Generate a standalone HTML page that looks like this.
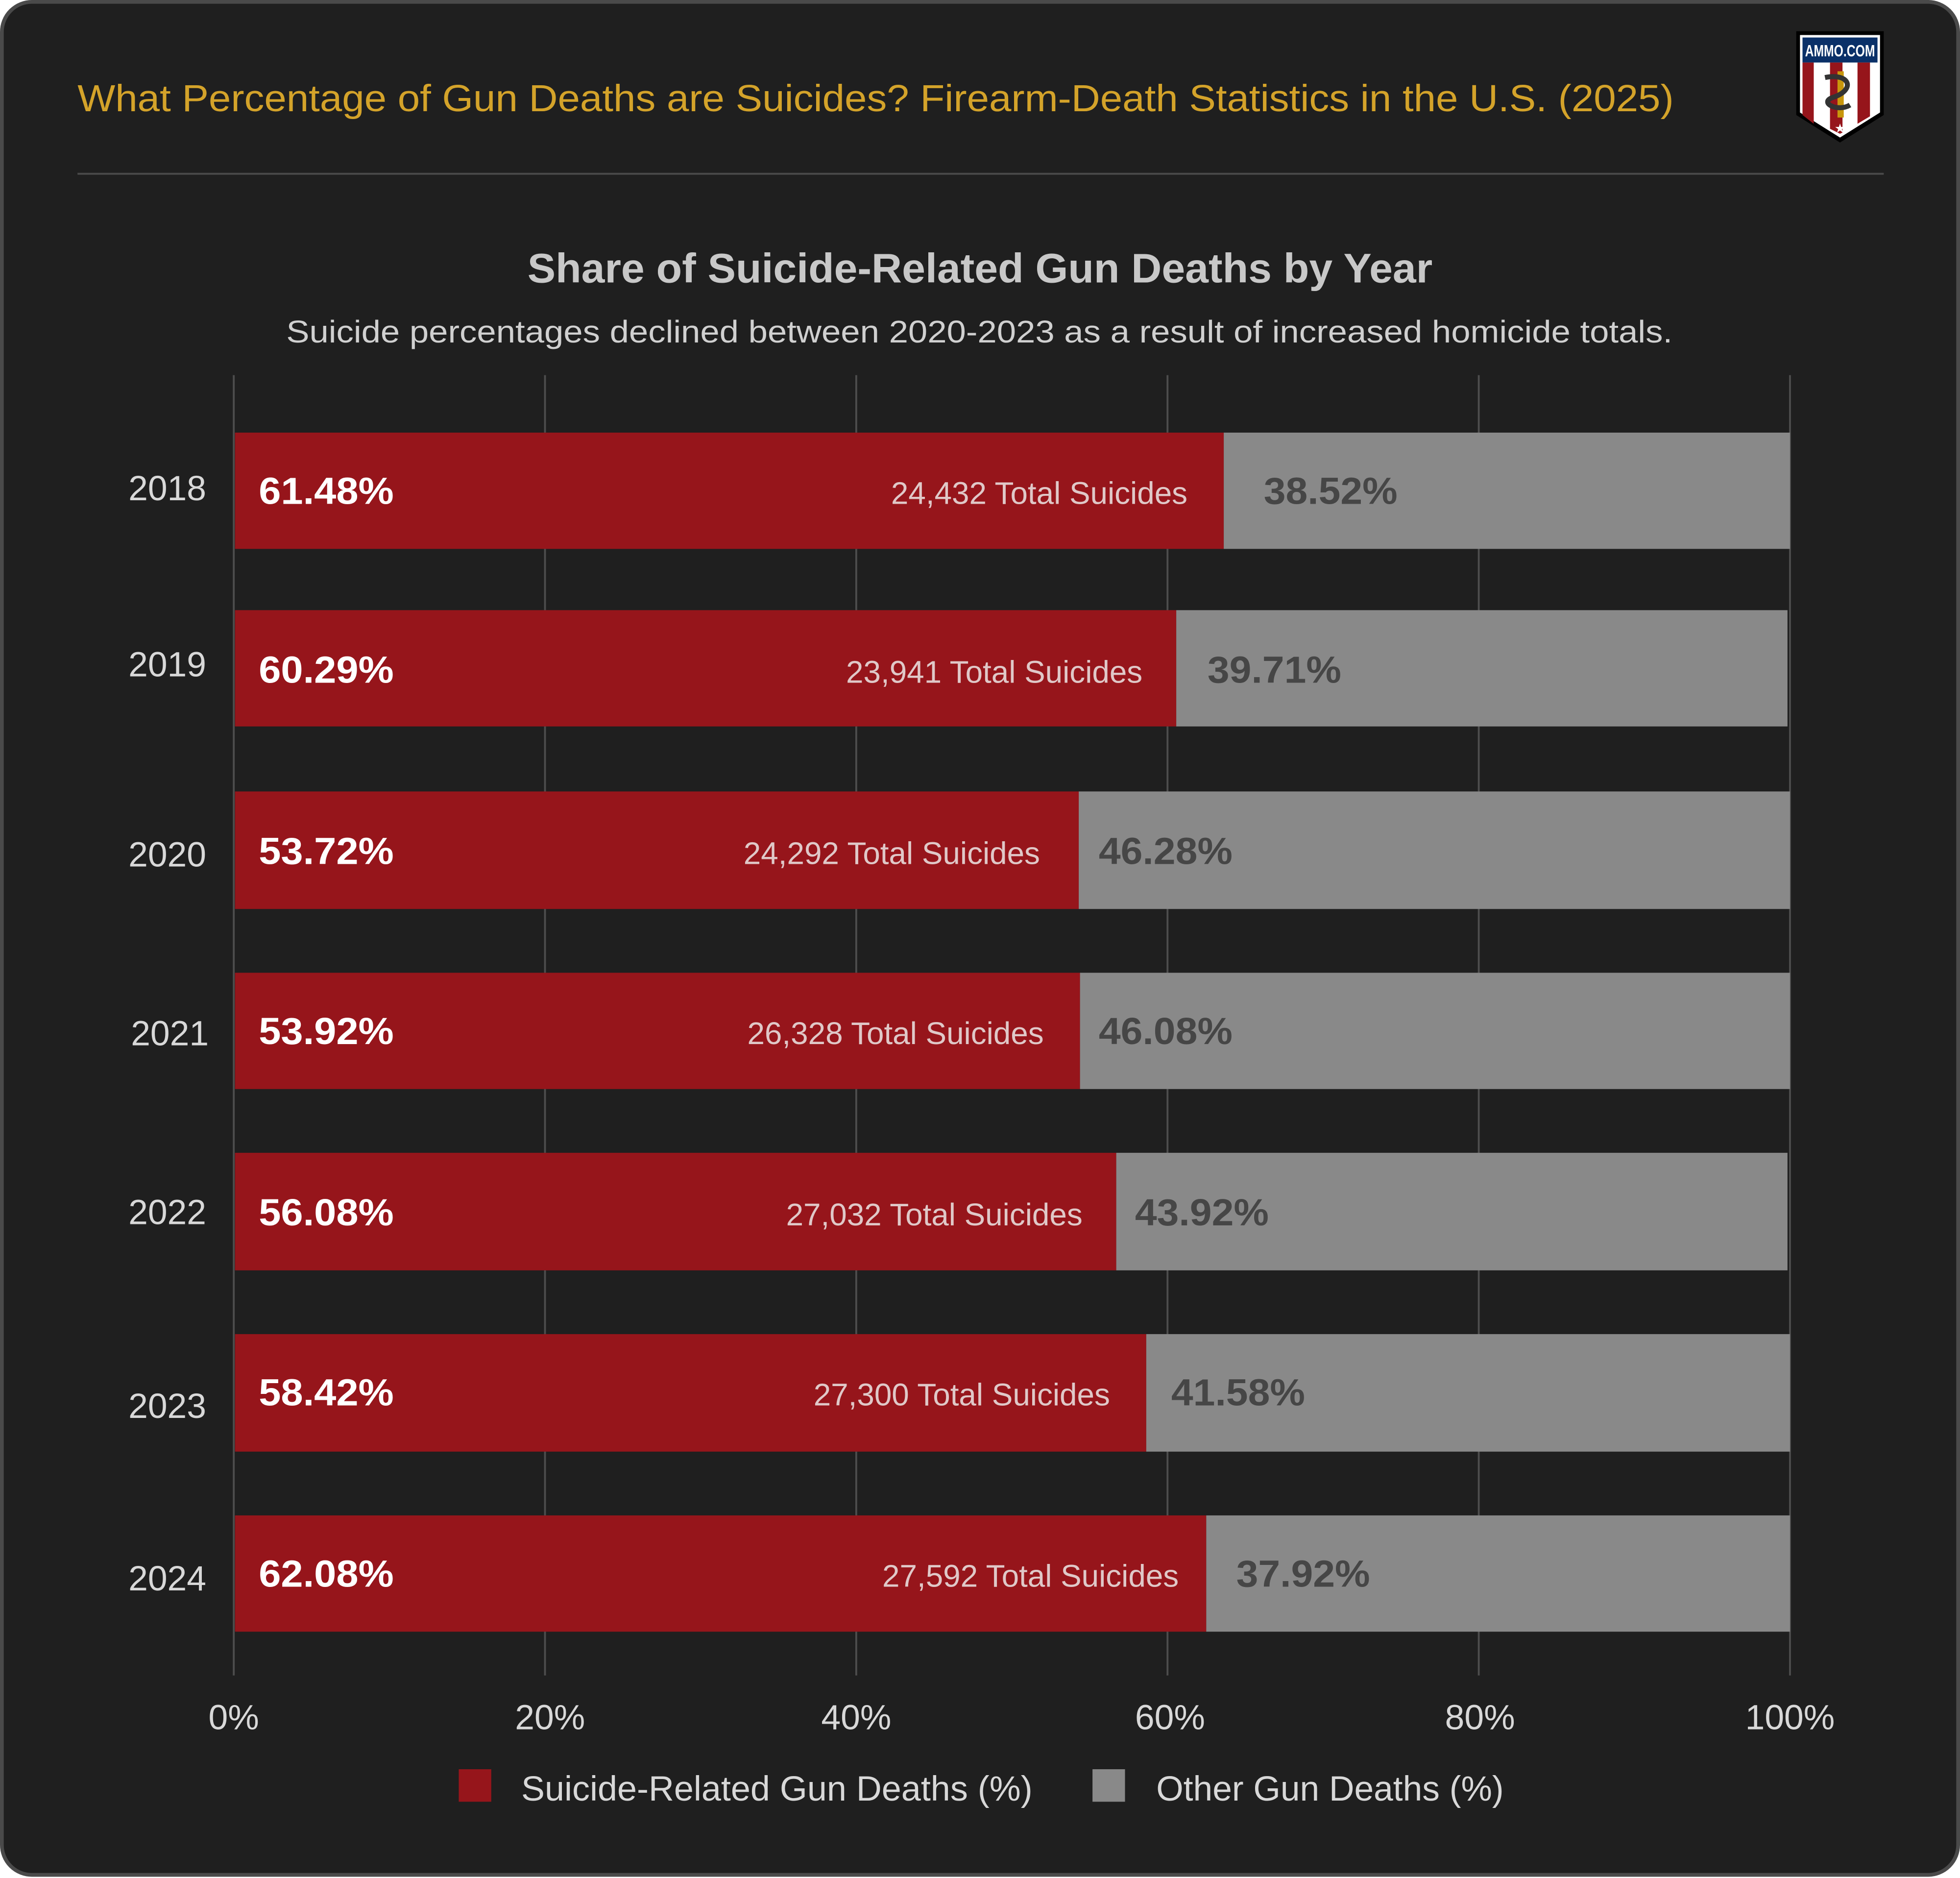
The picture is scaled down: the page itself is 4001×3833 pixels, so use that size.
<!DOCTYPE html>
<html><head><meta charset="utf-8"><style>
html,body{margin:0;padding:0;background:#fff;}
svg{display:block;}
text{font-family:"Liberation Sans",sans-serif;}
</style></head><body>
<svg width="4001" height="3833" viewBox="0 0 1568 1502" preserveAspectRatio="none" xmlns="http://www.w3.org/2000/svg">
<rect x="1.5" y="1.5" width="1565" height="1498" rx="24" fill="#1f1f1f" stroke="#4a4a4a" stroke-width="3"/>
<text x="62" y="89" font-size="30" fill="#d4a32a" textLength="1277" lengthAdjust="spacingAndGlyphs">What Percentage of Gun Deaths are Suicides? Firearm-Death Statistics in the U.S. (2025)</text>
<line x1="62" y1="139" x2="1507" y2="139" stroke="#4a4a4a" stroke-width="1.5"/>
<g>
<path d="M1437,25 H1507 V92 L1472,114 L1437,92 Z" fill="#000"/>
<path d="M1440,28 H1504 V90 L1472,110 L1440,90 Z" fill="#fff"/>
<rect x="1442" y="30" width="60" height="20" fill="#0a3068"/>
<text x="1444" y="45" font-size="13" font-weight="bold" fill="#fff" textLength="56" lengthAdjust="spacingAndGlyphs">AMMO.COM</text>
<path d="M1442,50 H1451 V99 L1442,92 Z" fill="#96151b"/>
<path d="M1464,50 H1474 V106 L1472,107 L1464,103 Z" fill="#96151b"/>
<path d="M1486,50 H1496 V93 L1486,99 Z" fill="#96151b"/>
<rect x="1470" y="57" width="5" height="37" fill="#c8960c"/>
<path d="M1460,62 C1480,58 1485,72 1466,78 C1455,82 1470,90 1480,84" stroke="#333" stroke-width="4" fill="none"/>
<text x="1472" y="106" font-size="10" fill="#fff" text-anchor="middle">★</text>
</g>
<text x="422" y="226" font-size="33" font-weight="bold" fill="#c8c8c8" textLength="724" lengthAdjust="spacingAndGlyphs">Share of Suicide-Related Gun Deaths by Year</text>
<text x="229" y="274" font-size="25" fill="#d0d0d0" textLength="1109" lengthAdjust="spacingAndGlyphs">Suicide percentages declined between 2020-2023 as a result of increased homicide totals.</text>
<g stroke="#4d4d4d" stroke-width="1.5">
<line x1="187" y1="300" x2="187" y2="1340"/><line x1="436" y1="300" x2="436" y2="1340"/><line x1="685" y1="300" x2="685" y2="1340"/><line x1="934" y1="300" x2="934" y2="1340"/><line x1="1183" y1="300" x2="1183" y2="1340"/><line x1="1432" y1="300" x2="1432" y2="1340"/>
</g>
<g font-size="28" fill="#d8d8d8" text-anchor="end">
<text x="165" y="400">2018</text><text x="165" y="541">2019</text><text x="165" y="693">2020</text><text x="167" y="836">2021</text><text x="165" y="979">2022</text><text x="165" y="1134">2023</text><text x="165" y="1272">2024</text>
</g>
<g>
<rect x="188" y="346" width="791" height="93" fill="#96151b"/><rect x="979" y="346" width="453" height="93" fill="#898989"/>
<rect x="188" y="488" width="753" height="93" fill="#96151b"/><rect x="941" y="488" width="489" height="93" fill="#898989"/>
<rect x="188" y="633" width="675" height="94" fill="#96151b"/><rect x="863" y="633" width="569" height="94" fill="#898989"/>
<rect x="188" y="778" width="676" height="93" fill="#96151b"/><rect x="864" y="778" width="568" height="93" fill="#898989"/>
<rect x="188" y="922" width="705" height="94" fill="#96151b"/><rect x="893" y="922" width="537" height="94" fill="#898989"/>
<rect x="188" y="1067" width="729" height="94" fill="#96151b"/><rect x="917" y="1067" width="515" height="94" fill="#898989"/>
<rect x="188" y="1212" width="777" height="93" fill="#96151b"/><rect x="965" y="1212" width="467" height="93" fill="#898989"/>
</g>
<g font-size="30" font-weight="bold" fill="#fff">
<text x="207" y="403" textLength="108" lengthAdjust="spacingAndGlyphs">61.48%</text><text x="207" y="546" textLength="108" lengthAdjust="spacingAndGlyphs">60.29%</text><text x="207" y="691" textLength="108" lengthAdjust="spacingAndGlyphs">53.72%</text><text x="207" y="835" textLength="108" lengthAdjust="spacingAndGlyphs">53.92%</text><text x="207" y="980" textLength="108" lengthAdjust="spacingAndGlyphs">56.08%</text><text x="207" y="1124" textLength="108" lengthAdjust="spacingAndGlyphs">58.42%</text><text x="207" y="1269" textLength="108" lengthAdjust="spacingAndGlyphs">62.08%</text>
</g>
<g font-size="25" fill="#e0c8c8" text-anchor="end">
<text x="950" y="403">24,432 Total Suicides</text><text x="914" y="546">23,941 Total Suicides</text><text x="832" y="691">24,292 Total Suicides</text><text x="835" y="835">26,328  Total Suicides</text><text x="866" y="980">27,032 Total Suicides</text><text x="888" y="1124">27,300  Total Suicides</text><text x="943" y="1269">27,592  Total Suicides</text>
</g>
<g font-size="30" font-weight="bold" fill="#464646">
<text x="1011" y="403" textLength="107" lengthAdjust="spacingAndGlyphs">38.52%</text><text x="966" y="546" textLength="107" lengthAdjust="spacingAndGlyphs">39.71%</text><text x="879" y="691" textLength="107" lengthAdjust="spacingAndGlyphs">46.28%</text><text x="879" y="835" textLength="107" lengthAdjust="spacingAndGlyphs">46.08%</text><text x="908" y="980" textLength="107" lengthAdjust="spacingAndGlyphs">43.92%</text><text x="937" y="1124" textLength="107" lengthAdjust="spacingAndGlyphs">41.58%</text><text x="989" y="1269" textLength="107" lengthAdjust="spacingAndGlyphs">37.92%</text>
</g>
<g font-size="28" fill="#d8d8d8" text-anchor="middle">
<text x="187" y="1383">0%</text><text x="440" y="1383">20%</text><text x="685" y="1383">40%</text><text x="936" y="1383">60%</text><text x="1184" y="1383">80%</text><text x="1432" y="1383">100%</text>
</g>
<rect x="367" y="1415" width="26" height="26" fill="#96151b"/>
<text x="417" y="1440" font-size="28" fill="#d8d8d8" textLength="409" lengthAdjust="spacingAndGlyphs">Suicide-Related Gun Deaths (%)</text>
<rect x="874" y="1415" width="26" height="26" fill="#898989"/>
<text x="925" y="1440" font-size="28" fill="#d8d8d8" textLength="278" lengthAdjust="spacingAndGlyphs">Other Gun Deaths (%)</text>
</svg>
</body></html>
